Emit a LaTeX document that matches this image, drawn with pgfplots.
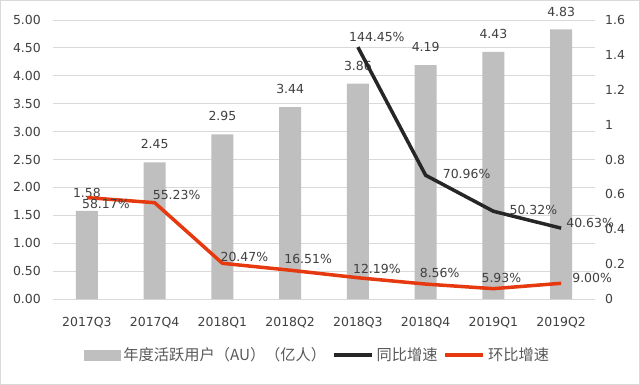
\documentclass[border=0pt]{standalone}
\usepackage{fontspec}
\usepackage{pgfplots}
\usepackage{pgfplotstable}
\pgfplotsset{compat=1.18}
\setmainfont{DejaVu Sans}
\newfontfamily\cjk{Noto Sans CJK SC}
\definecolor{barg}{HTML}{BFBFBF}
\definecolor{blackline}{HTML}{262626}
\definecolor{redline}{RGB}{230,57,15}
\definecolor{gridgray}{HTML}{D9D9D9}
\definecolor{textgray}{HTML}{404040}
\definecolor{legendgray}{HTML}{595959}

\pgfplotstableread{
x y
0 1.58
1 2.45
2 2.95
3 3.44
4 3.86
5 4.19
6 4.43
7 4.83
}\barsdata

\pgfplotstableread{
x y lab dx dy
4 1.4445 144.45 19 10
5 0.7096 70.96 41 1
6 0.5032 50.32 40 1
7 0.4063 40.63 29 5
}\yoydata

\pgfplotstableread{
x y lab dx dy
0 0.5817 58.17 19 -6
1 0.5523 55.23 22 8
2 0.2047 20.47 22 6
3 0.1651 16.51 18 11
4 0.1219 12.19 19 9
5 0.0856 8.56 14 11
6 0.0593 5.93 8 11
7 0.0900 9.00 31 5
}\qoqdata

\begin{document}
\fontsize{12.5}{15}\selectfont
\begin{tikzpicture}
\useasboundingbox (-53bp,-86bp) rectangle (587bp,299bp);
\fill[white] (-53bp,-86bp) rectangle (587bp,299bp);
\draw[gridgray, line width=1.5bp] (-52.25bp,-85.25bp) rectangle (586.25bp,298.25bp);
\pgfplotsset{
  common/.style={
    at={(0bp,0bp)}, anchor=south west,
    scale only axis, width=542bp, height=279bp,
    xmin=-0.5, xmax=7.5,
    axis line style={draw=none},
    major tick length=0pt,
    tick style={draw=none},
    /pgf/number format/assume math mode=true,
    tick label style={font=\fontsize{12.5}{15}\selectfont, text=textgray},
  }
}
\begin{axis}[common,
  ymin=0, ymax=5,
  ytick={0,0.5,1,1.5,2,2.5,3,3.5,4,4.5,5},
  ymajorgrids,
  grid style={color=gridgray, line width=0.8bp},
  yticklabel style={/pgf/number format/.cd, fixed, fixed zerofill, precision=2,
    /tikz/.cd, anchor=east, inner sep=0pt, xshift=-12bp},
  xtick={0,1,2,3,4,5,6,7},
  xticklabels={2017Q3,2017Q4,2018Q1,2018Q2,2018Q3,2018Q4,2019Q1,2019Q2},
  xticklabel style={anchor=base, inner sep=0pt, yshift=-27.5bp},
  clip=false,
]
\addplot[ybar, bar width=22bp, fill=barg, draw=none,
  nodes near coords={\pgfmathprintnumber[fixed,fixed zerofill,precision=2]{\pgfplotspointmeta}},
  nodes near coords style={anchor=center, yshift=18bp, text=textgray, font=\fontsize{12.5}{15}\selectfont},
] table[x=x, y=y] {\barsdata};
\end{axis}

\begin{axis}[common,
  ymin=0, ymax=1.6,
  ytick={0,0.2,0.4,0.6,0.8,1,1.2,1.4,1.6},
  yticklabel pos=right,
  yticklabel style={anchor=west, inner sep=0pt, xshift=10bp},
  xtick=\empty,
  clip=false,
  legend style={at={(0.489,-0.2007)}, anchor=center, draw=none, fill=none,
    font=\cjk\fontsize{15.3}{18}\selectfont, text=legendgray,
    legend columns=-1,
    /tikz/every even column/.append style={column sep=3bp},
    nodes={inner xsep=3bp}},
]
\addlegendimage{legend image code/.code={\fill[barg] (0bp,-5bp) rectangle (36bp,5bp);}}
\addlegendentry{年度活跃用户（AU）（亿人）}
\addlegendimage{legend image code/.code={\draw[blackline, line width=3.5bp] (0bp,0bp) -- (38bp,0bp);}}
\addlegendentry{同比增速}
\addlegendimage{legend image code/.code={\draw[redline, line width=3.5bp] (0bp,0bp) -- (38bp,0bp);}}
\addlegendentry{环比增速}

\addplot[forget plot, redline, line width=3.5bp, line join=round, mark=none,
  point meta=explicit symbolic,
  visualization depends on={\thisrow{dx}\as\dx},
  visualization depends on={\thisrow{dy}\as\dy},
  nodes near coords={\pgfplotspointmeta\%},
  nodes near coords style={anchor=center, xshift={\dx*1bp}, yshift={\dy*1bp}, text=textgray, font=\fontsize{12.5}{15}\selectfont},
] table[x=x, y=y, meta=lab] {\qoqdata};

\addplot[forget plot, blackline, line width=3.5bp, line join=round, mark=none,
  point meta=explicit symbolic,
  visualization depends on={\thisrow{dx}\as\dx},
  visualization depends on={\thisrow{dy}\as\dy},
  nodes near coords={\pgfplotspointmeta\%},
  nodes near coords style={anchor=center, xshift={\dx*1bp}, yshift={\dy*1bp}, text=textgray, font=\fontsize{12.5}{15}\selectfont},
] table[x=x, y=y, meta=lab] {\yoydata};
\end{axis}
\end{tikzpicture}
\end{document}
